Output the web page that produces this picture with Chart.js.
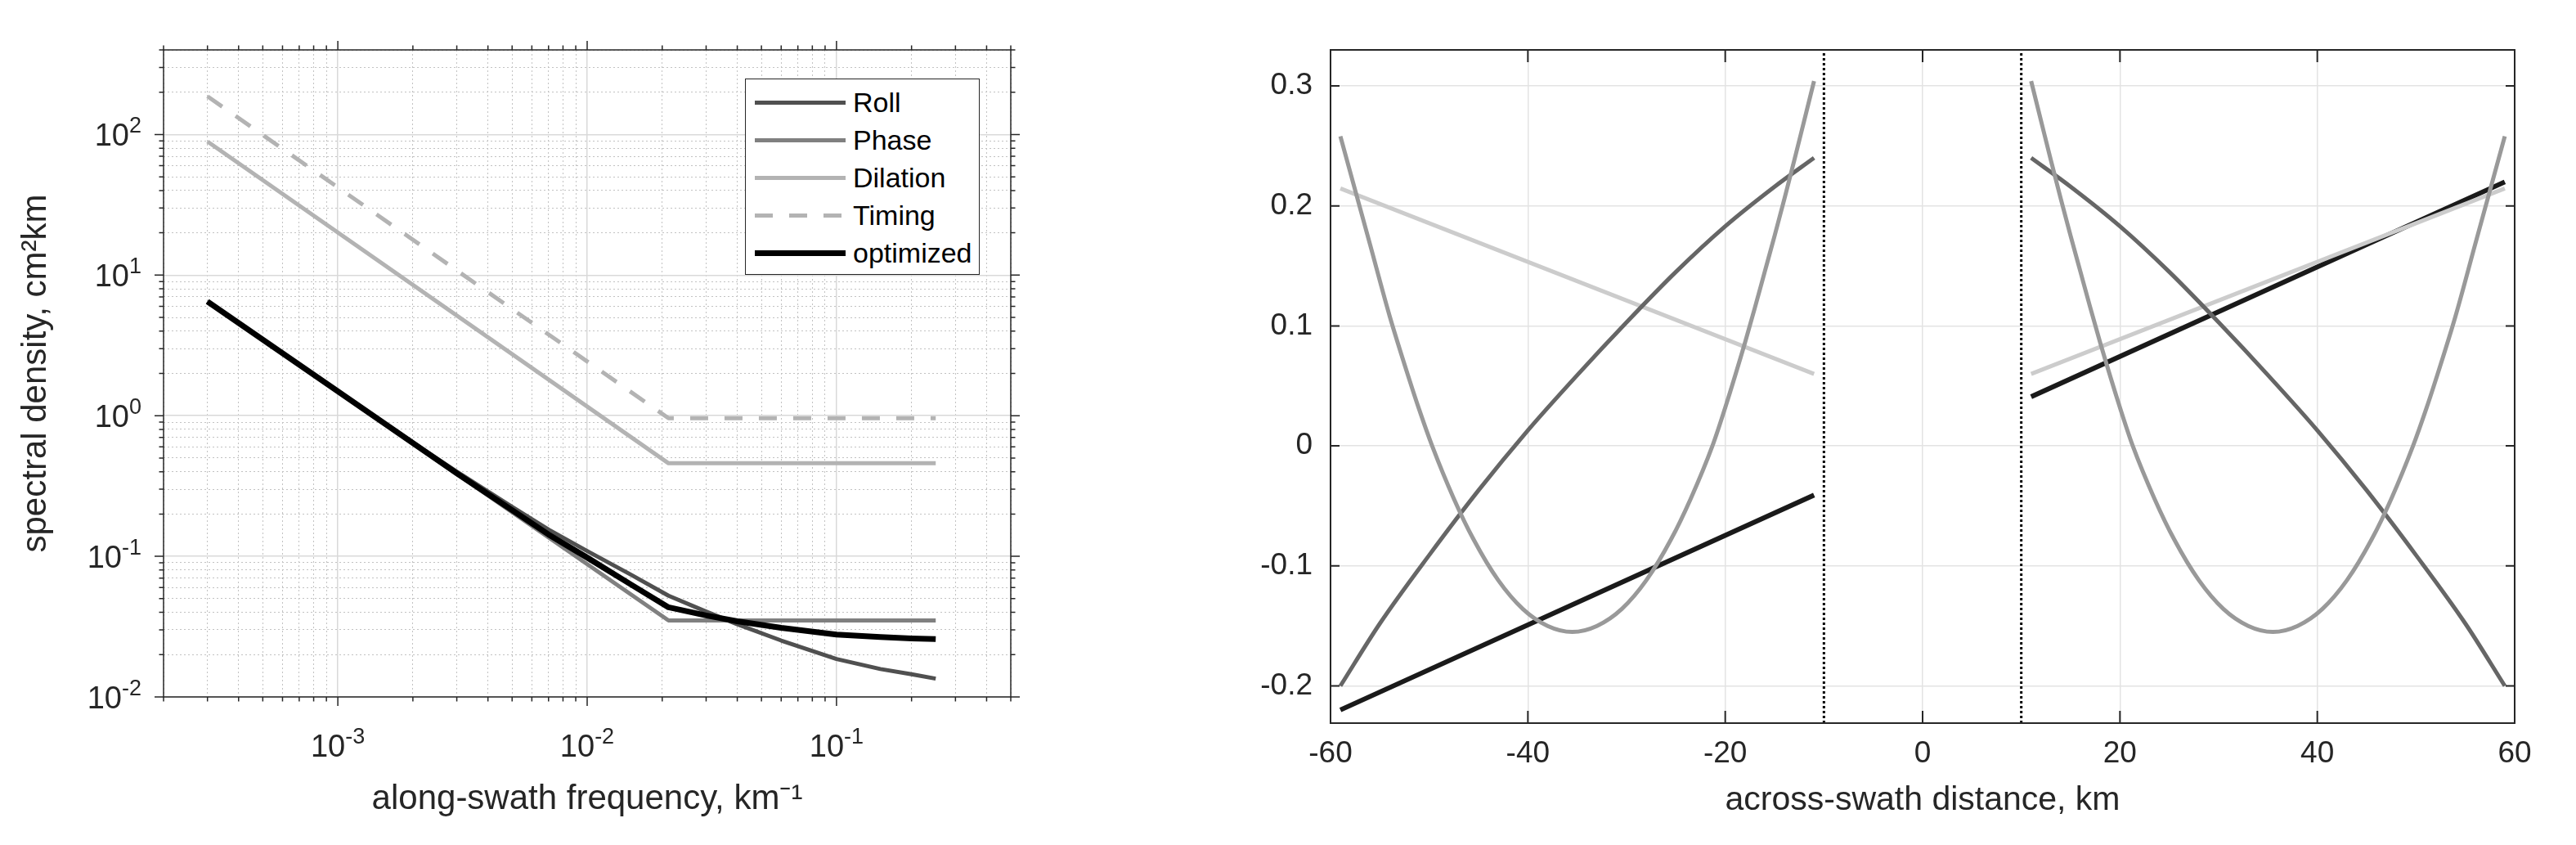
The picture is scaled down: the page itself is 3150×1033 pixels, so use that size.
<!DOCTYPE html>
<html lang="en">
<head>
<meta charset="utf-8">
<title>Along-swath spectra and across-swath profiles</title>
<script src="https://cdn.jsdelivr.net/npm/chart.js@4.4.1/dist/chart.umd.min.js"></script>
<style>
  html, body { margin: 0; padding: 0; background: #fff; }
  body { position: relative; width: 3150px; height: 1033px; overflow: hidden;
         font-family: "Liberation Sans", Arial, Helvetica, sans-serif; }
  .panel { position: absolute; top: 0; height: 1033px; }
  #left-panel { left: 0; width: 1300px; }
  #right-panel { left: 1500px; width: 1650px; }
  #legend { position: absolute; left: 911px; top: 96px; width: 287px; height: 240px;
            box-sizing: border-box; border: 1.5px solid #262626; background: #fff; }
  #legend .row { position: absolute; left: 0; right: 0; height: 46px; }
  #legend .swatch { position: absolute; left: 11px; width: 111px; }
  #legend .name { position: absolute; left: 131px; top: 0; line-height: 46px; font-size: 34px; color: #000; }
</style>
</head>
<body>
<div class="panel" id="left-panel"><canvas id="psd"></canvas><div id="legend"></div></div>
<div class="panel" id="right-panel"><canvas id="profile"></canvas></div>
<script>
// ---------- left panel: along-swath spectra (log-log) ----------
const kneeFreq = [3e-4, 0.0212, 0.25];              // km^-1, straight segments
const phasePsd = [6.5, 0.035, 0.035];
const dilationPsd = [89.3, 0.459, 0.459];
const timingPsd = [187, 0.96, 0.96];

const fineFreq = [3e-4, 1e-3, 2e-3, 3e-3, 5e-3, 7e-3, 0.01, 0.015, 0.0212, 0.03, 0.04, 0.06, 0.1, 0.15, 0.2, 0.25];
const rollPsd = [6.5, 1.49, 0.645, 0.40, 0.225, 0.155, 0.109, 0.074, 0.0525, 0.0405, 0.0329, 0.0252, 0.0186, 0.0158, 0.0145, 0.0135];
const optimizedPsd = [6.5, 1.49, 0.64, 0.39, 0.213, 0.143, 0.098, 0.063, 0.0434, 0.038, 0.0345, 0.031, 0.0278, 0.0267, 0.0261, 0.0258];

const freqRange = [2e-4, 0.5];
const psdRange = [0.01, 400];
const freqDecades = [1e-3, 1e-2, 1e-1];
const freqExponents = ['-3', '-2', '-1'];
const psdDecades = [1e-2, 1e-1, 1, 10, 100];
const psdExponents = ['-2', '-1', '0', '1', '2'];
const legendNames = ['Roll', 'Phase', 'Dilation', 'Timing', 'optimized'];

// ---------- right panel: across-swath profiles (km from nadir) ----------
const rollDist = [11, 15, 20, 25, 30, 35, 40, 45, 50, 55, 59];
const rollProfile = [0.240, 0.216, 0.183, 0.145, 0.103, 0.059, 0.013, -0.037, -0.091, -0.148, -0.200];
const bowlDist = [11, 12, 13, 14, 15, 16, 17, 18, 20, 21.3, 23.5, 25.5, 28, 30.5, 33, 35.5,
                  38, 40.5, 43, 45.5, 47.5, 49.7, 51, 52, 54, 56, 58, 59];
const bowlProfile = [0.304, 0.271, 0.238, 0.206, 0.175, 0.145, 0.115, 0.086, 0.032, 0.0, -0.044, -0.078, -0.112, -0.136, -0.150, -0.155,
                     -0.150, -0.136, -0.112, -0.078, -0.044, 0.0, 0.030, 0.055, 0.108, 0.168, 0.228, 0.258];
const lineDist = [11, 59];
const paleProfile = [0.060, 0.2145];                 // symmetric about nadir
const blackProfile = [0.041, 0.220];                 // antisymmetric about nadir
const swathEdges = [-10, 10];

const distRange = [-60, 60];
const profileRange = [-0.231, 0.33];
const distTicks = [-60, -40, -20, 0, 20, 40, 60];
const profileTicks = [-0.2, -0.1, 0, 0.1, 0.2, 0.3];

// ---------- helpers ----------
const INK = '#262626';
const FONT = '"Liberation Sans", Arial, Helvetica, sans-serif';

const pts = (xs, ys) => xs.map((x, i) => ({ x, y: ys[i] }));

function acrossSwath(dist, vals, odd) {
  const left = dist.map((d, i) => ({ x: -d, y: odd ? -vals[i] : vals[i] })).reverse();
  const right = dist.map((d, i) => ({ x: d, y: vals[i] }));
  return [...left, { x: 0, y: null }, ...right];
}

function logGrid([lo, hi]) {
  const out = [];
  for (let e = Math.floor(Math.log10(lo)); e <= Math.ceil(Math.log10(hi)); e++) {
    for (let m = 1; m <= 9; m++) {
      const v = Number((m * Math.pow(10, e)).toPrecision(3));
      if (v >= lo * 0.9999 && v <= hi * 1.0001) out.push(v);
    }
  }
  return out;
}
const isDecade = v => Math.abs(Math.log10(v) - Math.round(Math.log10(v))) < 1e-6;
const decadeIndex = (v, decades) => decades.findIndex(d => Math.abs(v / d - 1) < 1e-6);

/* box round the axes plus mirrored tick marks, MATLAB style */
const boxTicks = {
  id: 'boxTicks',
  afterDatasetsDraw(chart, args, o) {
    const { ctx, chartArea: a } = chart;
    const sx = chart.scales.x, sy = chart.scales.y;
    const dir = o.inward ? -1 : 1;
    ctx.save();
    ctx.strokeStyle = INK;
    ctx.lineWidth = o.tickWidth;
    ctx.beginPath();
    sx.ticks.forEach(t => {
      const p = sx.getPixelForValue(t.value);
      const len = (o.log && !isDecade(t.value)) ? o.xMinor : o.xMajor;
      ctx.moveTo(p, a.bottom); ctx.lineTo(p, a.bottom + dir * len);
      ctx.moveTo(p, a.top); ctx.lineTo(p, a.top - dir * len);
    });
    sy.ticks.forEach(t => {
      const p = sy.getPixelForValue(t.value);
      const len = (o.log && !isDecade(t.value)) ? o.yMinor : o.yMajor;
      ctx.moveTo(a.left, p); ctx.lineTo(a.left - dir * len, p);
      ctx.moveTo(a.right, p); ctx.lineTo(a.right + dir * len, p);
    });
    ctx.stroke();
    ctx.lineWidth = o.boxWidth;
    ctx.strokeRect(a.left, a.top, a.right - a.left, a.bottom - a.top);
    ctx.restore();
  }
};

/* "10^n" decade labels with a real raised exponent */
const powerLabels = {
  id: 'powerLabels',
  afterDraw(chart, args, o) {
    const { ctx, chartArea: a } = chart;
    const baseFont = `${o.size}px ${FONT}`;
    const expFont = `${o.expSize}px ${FONT}`;
    const put = (exp, x, baseline, align) => {
      ctx.font = baseFont; const wb = ctx.measureText('10').width;
      ctx.font = expFont; const we = ctx.measureText(exp).width;
      const start = align === 'center' ? x - (wb + we) / 2 : x - (wb + we);
      ctx.font = baseFont; ctx.fillText('10', start, baseline);
      ctx.font = expFont; ctx.fillText(exp, start + wb, baseline - o.rise);
    };
    ctx.save();
    ctx.fillStyle = INK;
    ctx.textBaseline = 'alphabetic';
    ctx.textAlign = 'left';
    chart.scales.x.ticks.forEach(t => {
      const i = decadeIndex(t.value, freqDecades);
      if (i >= 0) put(freqExponents[i], chart.scales.x.getPixelForValue(t.value), a.bottom + o.xGap, 'center');
    });
    chart.scales.y.ticks.forEach(t => {
      const i = decadeIndex(t.value, psdDecades);
      if (i >= 0) put(psdExponents[i], a.left - o.yGap, chart.scales.y.getPixelForValue(t.value) + o.size * 0.358, 'right');
    });
    ctx.restore();
  }
};

Chart.defaults.font.family = FONT;
Chart.defaults.color = INK;

// ---------- left chart ----------
const leftStyles = {
  Roll:      { color: '#505050', width: 5, order: 1 },
  Phase:     { color: '#808080', width: 5, order: 2 },
  Dilation:  { color: '#b3b3b3', width: 5, order: 3 },
  Timing:    { color: '#b3b3b3', width: 5, order: 4, dash: [22, 20] },
  optimized: { color: '#000000', width: 7, order: 0 }
};
const leftSeries = {
  Roll: pts(fineFreq, rollPsd),
  Phase: pts(kneeFreq, phasePsd),
  Dilation: pts(kneeFreq, dilationPsd),
  Timing: pts(kneeFreq, timingPsd),
  optimized: pts(fineFreq, optimizedPsd)
};

const logGridStyle = {
  color: c => (c.tick && isDecade(c.tick.value)) ? '#d9d9d9' : '#c2c2c2',
  lineWidth: c => (c.tick && isDecade(c.tick.value)) ? 1.5 : 1,
  drawTicks: false
};
const logBorder = { display: false, dash: c => (c.tick && !isDecade(c.tick.value)) ? [2, 3] : [] };

const psdChart = new Chart(document.getElementById('psd'), {
  type: 'line',
  data: {
    datasets: legendNames.map(name => ({
      label: name,
      data: leftSeries[name],
      borderColor: leftStyles[name].color,
      borderWidth: leftStyles[name].width,
      borderDash: leftStyles[name].dash || [],
      order: leftStyles[name].order,
      borderJoinStyle: 'round',
      pointRadius: 0,
      tension: 0
    }))
  },
  options: {
    responsive: true, maintainAspectRatio: false, animation: false,
    layout: { padding: { top: 61, right: 64, bottom: 0, left: 0 } },
    plugins: {
      legend: { display: false }, tooltip: { enabled: false },
      boxTicks: { log: true, inward: false, xMajor: 11, xMinor: 5.5, yMajor: 11, yMinor: 5.5, tickWidth: 1.5, boxWidth: 1.5 },
      powerLabels: { size: 38, expSize: 27, rise: 16, xGap: 73, yGap: 27 }
    },
    scales: {
      x: {
        type: 'logarithmic', min: freqRange[0], max: freqRange[1],
        afterBuildTicks: s => { s.ticks = logGrid(freqRange).map(v => ({ value: v })); },
        afterFit: s => { s.height = 181; },
        ticks: { display: false, autoSkip: false, maxRotation: 0 },
        grid: logGridStyle, border: logBorder,
        title: { display: true, text: 'along-swath frequency, km⁻¹', font: { size: 42 }, padding: { top: 0, bottom: 30 } }
      },
      y: {
        type: 'logarithmic', min: psdRange[0], max: psdRange[1],
        afterBuildTicks: s => { s.ticks = logGrid(psdRange).map(v => ({ value: v })); },
        afterFit: s => { s.width = 200; },
        ticks: { display: false, autoSkip: false },
        grid: logGridStyle, border: logBorder,
        title: { display: true, text: 'spectral density, cm²km', font: { size: 42 }, padding: { top: 19, bottom: 0 } }
      }
    }
  },
  plugins: [boxTicks, powerLabels]
});

// legend box, built from the datasets
const legendEl = document.getElementById('legend');
psdChart.data.datasets.forEach((ds, i) => {
  const row = document.createElement('div');
  row.className = 'row';
  row.style.top = (5 + i * 46) + 'px';
  const sw = document.createElement('div');
  sw.className = 'swatch';
  sw.style.height = ds.borderWidth + 'px';
  sw.style.top = (23 - ds.borderWidth / 2) + 'px';
  if (ds.borderDash.length) {
    const [on, off] = ds.borderDash;
    sw.style.background = `repeating-linear-gradient(to right, ${ds.borderColor} 0 ${on}px, transparent ${on}px ${on + off}px)`;
  } else {
    sw.style.background = ds.borderColor;
  }
  const nm = document.createElement('div');
  nm.className = 'name';
  nm.textContent = ds.label;
  row.appendChild(sw);
  row.appendChild(nm);
  legendEl.appendChild(row);
});

// ---------- right chart ----------
const linGrid = { color: '#e3e3e3', lineWidth: 1.5, drawTicks: false };

new Chart(document.getElementById('profile'), {
  type: 'line',
  data: {
    datasets: [
      { label: 'bowl', data: acrossSwath(bowlDist, bowlProfile, false), borderColor: '#999999', borderWidth: 5, order: 0, cubicInterpolationMode: 'monotone' },
      { label: 'roll', data: acrossSwath(rollDist, rollProfile, false), borderColor: '#666666', borderWidth: 5, order: 1, cubicInterpolationMode: 'monotone' },
      { label: 'pale', data: acrossSwath(lineDist, paleProfile, false), borderColor: '#cccccc', borderWidth: 5, order: 2 },
      { label: 'black', data: acrossSwath(lineDist, blackProfile, true), borderColor: '#1a1a1a', borderWidth: 6, order: 3 },
      ...swathEdges.map(e => ({
        label: 'edge ' + e,
        data: [{ x: e, y: profileRange[0] }, { x: e, y: profileRange[1] }],
        borderColor: '#000000', borderWidth: 3, borderDash: [3, 3], order: 4
      }))
    ].map(ds => Object.assign({ pointRadius: 0, spanGaps: false, borderJoinStyle: 'round' }, ds))
  },
  options: {
    responsive: true, maintainAspectRatio: false, animation: false,
    layout: { padding: { top: 61, right: 75, bottom: 0, left: 0 } },
    plugins: {
      legend: { display: false }, tooltip: { enabled: false },
      boxTicks: { log: false, inward: true, xMajor: 15, yMajor: 11, tickWidth: 2, boxWidth: 2 }
    },
    scales: {
      x: {
        type: 'linear', min: distRange[0], max: distRange[1],
        afterBuildTicks: s => { s.ticks = distTicks.map(v => ({ value: v })); },
        afterFit: s => { s.height = 149; },
        ticks: { autoSkip: false, maxRotation: 0, padding: 16, font: { size: 37 }, callback: v => String(v) },
        grid: linGrid, border: { display: false },
        title: { display: true, text: 'across-swath distance, km', font: { size: 41 }, padding: { top: 0, bottom: 30 } }
      },
      y: {
        type: 'linear', min: profileRange[0], max: profileRange[1],
        afterBuildTicks: s => { s.ticks = profileTicks.map(v => ({ value: v })); },
        afterFit: s => { s.width = 127; },
        ticks: { autoSkip: false, padding: 22, font: { size: 37 }, callback: v => String(Math.round(v * 10) / 10) },
        grid: linGrid, border: { display: false }
      }
    }
  },
  plugins: [boxTicks]
});
</script>
</body>
</html>
